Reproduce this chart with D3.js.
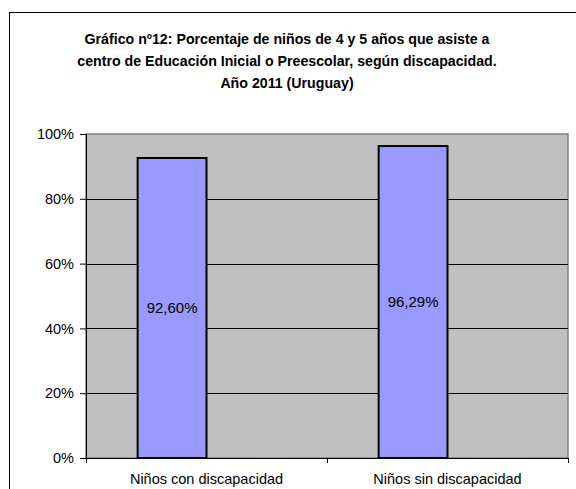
<!DOCTYPE html>
<html>
<head>
<meta charset="utf-8">
<script src="https://cdn.jsdelivr.net/npm/d3@7"></script>
<style>
  body { margin: 0; background: #fff; }
  svg { display: block; }
</style>
</head>
<body>
<svg id="chart" width="576" height="489"></svg>
<script>
// Data
const titleLines = [
    "Gráfico nº12: Porcentaje de niños de 4 y 5 años que asiste a",
    "centro de Educación Inicial o Preescolar, según discapacidad.",
    "Año 2011 (Uruguay)"
];
const categories = ["Niños con discapacidad", "Niños sin discapacidad"];
const values = [0.926, 0.9629];
// Excel cluster had a second (empty) series, so bars sit left of centre
const seriesSlots = ["valor", "vacío"];
const yTicks = [0, 0.2, 0.4, 0.6, 0.8, 1];

const width = 576, height = 489;
const plot = { left: 86, right: 568, top: 134, bottom: 458 };
const font_family = "Arial, 'Liberation Sans', sans-serif";

const svg = d3.select("#chart");

// Outer frame (cut off at right and bottom)
svg.append("rect")
    .attr("x", 9.5).attr("y", 12.5)
    .attr("width", 620).attr("height", 520)
    .attr("fill", "#fff")
    .attr("stroke", "#000")
    .attr("stroke-width", 1);

// Title
svg.append("g").selectAll("text")
    .data(titleLines)
    .join("text")
    .attr("x", 287)
    .attr("y", (d, i) => 44 + i * 22)
    .attr("text-anchor", "middle")
    .attr("font-family", font_family)
    .attr("font-size", 14.2)
    .attr("font-weight", "bold")
    .attr("fill", "#000")
    .text(d => d);

// Scales
const x0 = d3.scaleBand()
    .domain(categories)
    .range([plot.left, plot.right])
    .paddingInner(0).paddingOuter(0);

const x1 = d3.scaleBand()
    .domain(seriesSlots)
    .range([0, x0.bandwidth()])
    .paddingInner(0).paddingOuter(0.75);

const y = d3.scaleLinear()
    .domain([0, 1])
    .range([plot.bottom, plot.top]);

// Plot area background
svg.append("rect")
    .attr("x", plot.left).attr("y", plot.top)
    .attr("width", plot.right - plot.left)
    .attr("height", plot.bottom - plot.top)
    .attr("fill", "#c0c0c0")
    .attr("stroke", "#808080")
    .attr("stroke-width", 1.5);

// Gridlines
svg.append("g").selectAll("line")
    .data(yTicks.filter(t => t > 0 && t < 1))
    .join("line")
    .attr("x1", plot.left).attr("x2", plot.right)
    .attr("y1", d => Math.round(y(d)) + 0.5)
    .attr("y2", d => Math.round(y(d)) + 0.5)
    .attr("stroke", "#000")
    .attr("stroke-width", 1);

// Bars
const pct = d3.formatLocale({ decimal: ",", thousands: ".", grouping: [3], currency: ["", ""] }).format(".2%");
const barData = categories.map((c, i) => ({ cat: c, v: values[i] }));

const barG = svg.append("g");
barG.selectAll("rect")
    .data(barData)
    .join("rect")
    .attr("x", d => x0(d.cat) + x1("valor"))
    .attr("y", d => y(d.v))
    .attr("width", x1.bandwidth())
    .attr("height", d => y(0) - y(d.v))
    .attr("fill", "#9999ff")
    .attr("stroke", "#000")
    .attr("stroke-width", 2);

barG.selectAll("text")
    .data(barData)
    .join("text")
    .attr("x", d => x0(d.cat) + x1("valor") + x1.bandwidth() / 2)
    .attr("y", d => (y(d.v) + y(0)) / 2)
    .attr("dy", "0.35em")
    .attr("text-anchor", "middle")
    .attr("font-family", font_family)
    .attr("font-size", 15)
    .attr("fill", "#000")
    .text(d => pct(d.v));

// Y axis
const yAxis = svg.append("g")
    .attr("transform", `translate(${plot.left},0)`)
    .call(d3.axisLeft(y).tickValues(yTicks).tickFormat(d3.format(".0%")).tickSizeOuter(0).tickSize(6).tickPadding(6));
yAxis.select(".domain").attr("stroke", "#000");
yAxis.selectAll("text")
    .attr("font-family", font_family)
    .attr("font-size", 14.5)
    .attr("fill", "#000");

// X axis
const xAxis = svg.append("g")
    .attr("transform", `translate(0,${plot.bottom})`)
    .call(d3.axisBottom(x0).tickSize(0).tickSizeOuter(0).tickPadding(16));
xAxis.select(".domain").attr("stroke", "#000");
xAxis.selectAll("text")
    .attr("font-family", font_family)
    .attr("font-size", 14.5)
    .attr("fill", "#000");

// Category separator ticks
svg.append("g").selectAll("line")
    .data([plot.left, x0(categories[1]), plot.right])
    .join("line")
    .attr("x1", d => d + 0.5).attr("x2", d => d + 0.5)
    .attr("y1", plot.bottom).attr("y2", plot.bottom + 5)
    .attr("stroke", "#000");
</script>
</body>
</html>
